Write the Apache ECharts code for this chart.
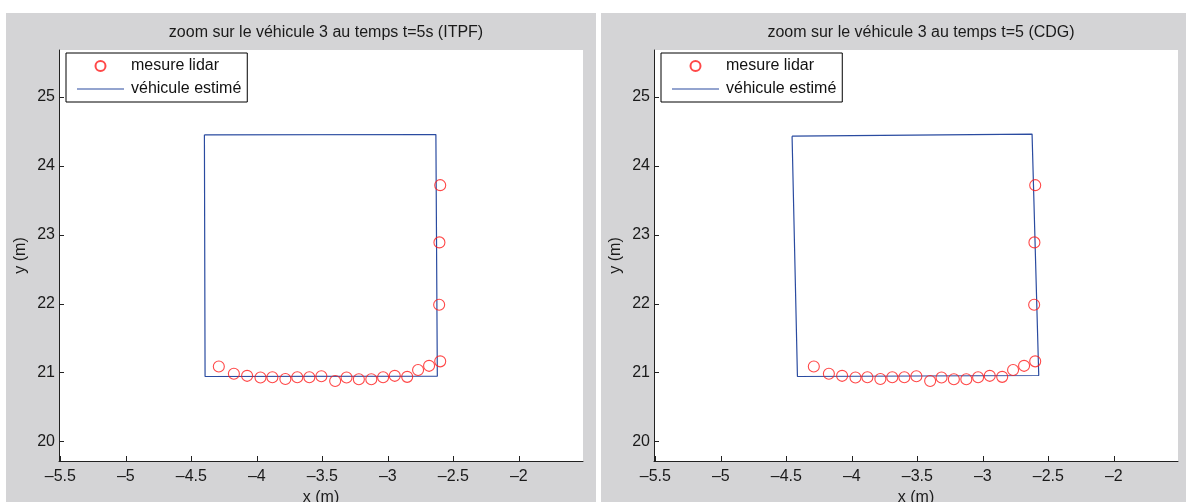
<!DOCTYPE html>
<html>
<head>
<meta charset="utf-8">
<script src="https://cdn.jsdelivr.net/npm/echarts@6/dist/echarts.min.js"></script>
<style>
html,body{margin:0;padding:0;background:#fff;}
#c{width:1186px;height:502px;}
</style>
</head>
<body>
<div id="c"></div>
<script>
// ---- data ----
const lidarX = [-4.29, -4.175, -4.074, -3.972, -3.881, -3.782, -3.691, -3.599, -3.507, -3.402, -3.315, -3.221, -3.126, -3.036, -2.947, -2.852, -2.769, -2.685, -2.600, -2.608, -2.606, -2.600];
const lidarY = [21.09, 20.985, 20.955, 20.93, 20.935, 20.91, 20.935, 20.935, 20.95, 20.88, 20.93, 20.905, 20.905, 20.935, 20.955, 20.94, 21.04, 21.10, 21.165, 21.985, 22.89, 23.72];
const itpfX = [-4.400, -2.633, -2.622, -4.395, -4.400];
const itpfY = [24.45, 24.455, 20.95, 20.945, 24.45];
const cdgX = [-4.456, -2.624, -2.573, -4.415, -4.456];
const cdgY = [24.43, 24.46, 20.96, 20.945, 24.43];
const xTicks = [-5.5, -5, -4.5, -4, -3.5, -3, -2.5, -2];
const yTicks = [20, 21, 22, 23, 24, 25];
const titles = ['zoom sur le véhicule 3 au temps t=5s (ITPF)', 'zoom sur le véhicule 3 au temps t=5 (CDG)'];
const seriesNames = ['mesure lidar', 'véhicule estimé'];

const zip = (a, b) => a.map((v, i) => [v, b[i]]);
const FONT = "'Liberation Sans', Arial, Helvetica, sans-serif";
const BLUE = '#2a4ba0';
const RED = '#ff1a1a';
const fmtMinus = v => String(v).replace('-', '\u2013');

const panels = [
  { gridLeft: 59, gray: [6, 13, 590, 489], legendLeft: 66 },
  { gridLeft: 654, gray: [601, 13, 585, 489], legendLeft: 661 }
];
const GRID_TOP = 50, GRID_W = 524, GRID_H = 411;

const option = {
  animation: false,
  backgroundColor: '#ffffff',
  graphic: panels.map(p => ({
    type: 'rect', z: -10, silent: true,
    shape: { x: p.gray[0], y: p.gray[1], width: p.gray[2], height: p.gray[3] },
    style: { fill: '#d4d4d6' }
  })),
  title: panels.map((p, i) => ({
    text: titles[i],
    left: p.gridLeft + GRID_W / 2,
    top: 20,
    textAlign: 'center',
    textStyle: { fontFamily: FONT, fontSize: 16, fontWeight: 'normal', color: '#1a1a1a' }
  })),
  legend: panels.map(p => ({
    data: [
      { name: seriesNames[0] },
      { name: seriesNames[1], icon: 'path://M0 0 H 47 V 1.2 H 0 Z' }
    ],
    orient: 'vertical',
    left: p.legendLeft,
    top: 53,
    itemWidth: 47,
    itemHeight: 10,
    itemGap: 7,
    padding: [5, 6, 5, 11],
    backgroundColor: '#ffffff',
    borderColor: '#000000',
    borderWidth: 1,
    borderRadius: 0,
    selectedMode: false,
    textStyle: { fontFamily: FONT, fontSize: 16, color: '#111', lineHeight: 16, padding: [0, 0, 0, 2] }
  })),
  grid: panels.map(p => ({
    left: p.gridLeft, top: GRID_TOP, width: GRID_W, height: GRID_H,
    outerBoundsMode: 'none',
    show: true, backgroundColor: '#ffffff', borderWidth: 0, containLabel: false
  })),
  xAxis: panels.map((p, i) => ({
    type: 'value', gridIndex: i, min: -5.51, max: -1.51,
    name: 'x (m)', nameLocation: 'middle', nameGap: 24,
    nameTextStyle: { fontFamily: FONT, fontSize: 16, color: '#1a1a1a' },
    axisLine: { show: true, onZero: false, lineStyle: { color: '#222', width: 1 } },
    axisTick: { show: true, inside: true, length: 5, customValues: xTicks, lineStyle: { color: '#222' } },
    axisLabel: { customValues: xTicks, formatter: fmtMinus, margin: 8, fontFamily: FONT, fontSize: 16, color: '#1a1a1a' },
    splitLine: { show: false }
  })),
  yAxis: panels.map((p, i) => ({
    type: 'value', gridIndex: i, min: 19.72, max: 25.68,
    name: 'y (m)', nameLocation: 'middle', nameGap: 30, nameRotate: 90,
    nameTextStyle: { fontFamily: FONT, fontSize: 16, color: '#1a1a1a' },
    axisLine: { show: true, onZero: false, lineStyle: { color: '#222', width: 1 } },
    axisTick: { show: true, inside: true, length: 5, customValues: yTicks, lineStyle: { color: '#222' } },
    axisLabel: { customValues: yTicks, margin: 4, fontFamily: FONT, fontSize: 16, color: '#1a1a1a' },
    splitLine: { show: false }
  })),
  series: [
    { name: seriesNames[1], type: 'line', xAxisIndex: 0, yAxisIndex: 0, data: zip(itpfX, itpfY),
      symbol: 'none', lineStyle: { color: BLUE, width: 1.2 }, itemStyle: { color: BLUE }, z: 2 },
    { name: seriesNames[0], type: 'scatter', xAxisIndex: 0, yAxisIndex: 0, data: zip(lidarX, lidarY),
      symbol: 'circle', symbolSize: 11,
      itemStyle: { color: 'rgba(0,0,0,0)', borderColor: RED, borderWidth: 1.1 }, z: 3 },
    { name: seriesNames[1], type: 'line', xAxisIndex: 1, yAxisIndex: 1, data: zip(cdgX, cdgY),
      symbol: 'none', lineStyle: { color: BLUE, width: 1.2 }, itemStyle: { color: BLUE }, z: 2 },
    { name: seriesNames[0], type: 'scatter', xAxisIndex: 1, yAxisIndex: 1, data: zip(lidarX, lidarY),
      symbol: 'circle', symbolSize: 11,
      itemStyle: { color: 'rgba(0,0,0,0)', borderColor: RED, borderWidth: 1.1 }, z: 3 }
  ]
};

const chart = echarts.init(document.getElementById('c'), null, { renderer: 'canvas' });
chart.setOption(option);
</script>
</body>
</html>
